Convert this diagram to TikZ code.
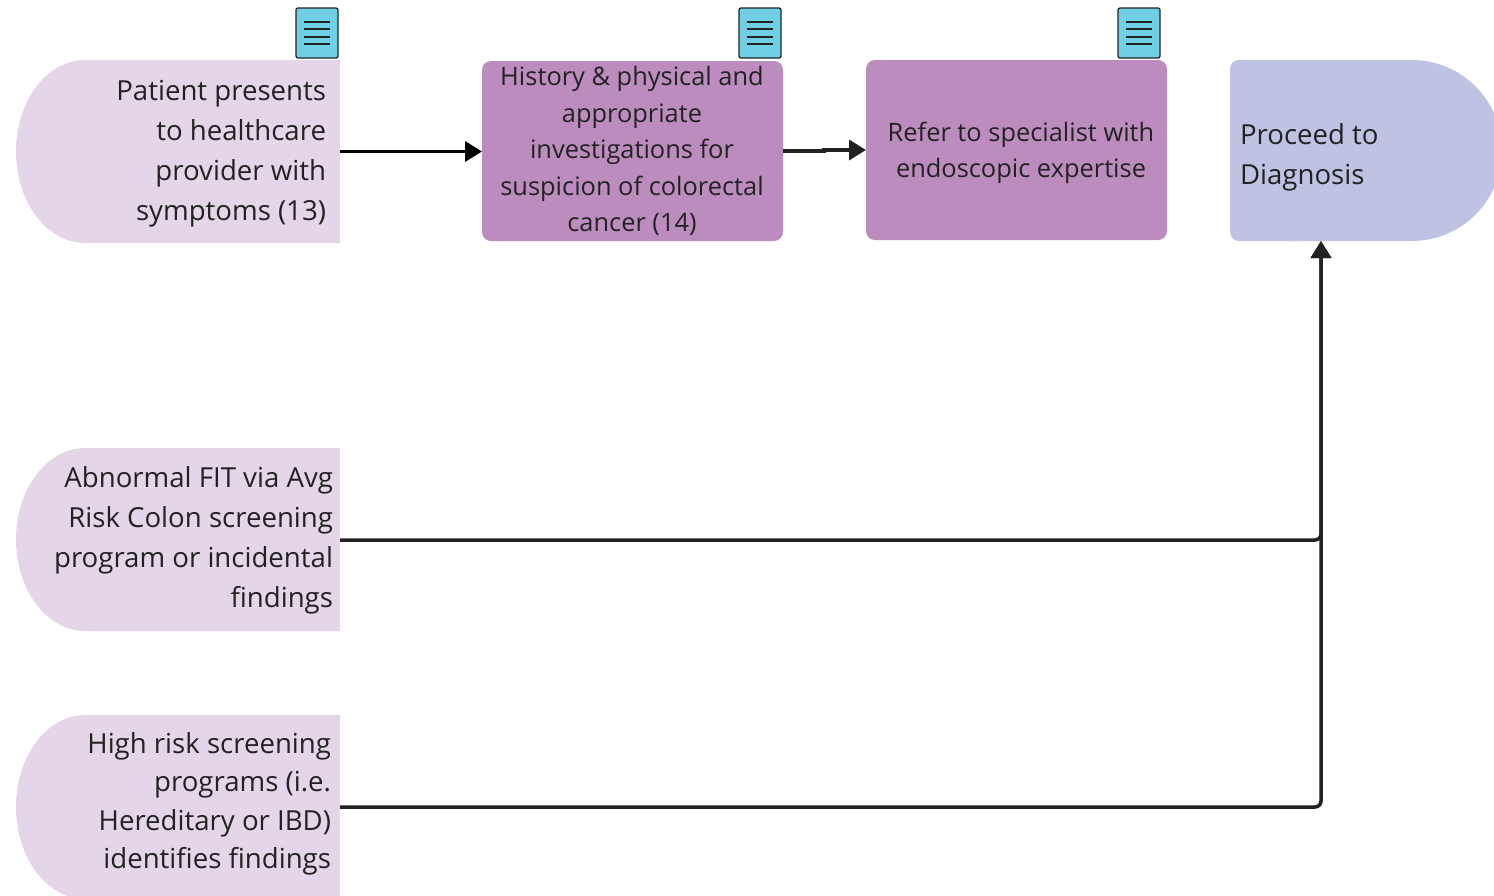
\documentclass[tikz,border=0pt]{standalone}
\usepackage{fontspec}
\setmainfont{Open Sans}
\usetikzlibrary{arrows.meta}
\definecolor{lilac}{HTML}{E4D5E9}
\definecolor{plum}{HTML}{BC8CBF}
\definecolor{periw}{HTML}{BFC3E3}
\definecolor{iconblue}{HTML}{6ECFE5}
\definecolor{ink}{HTML}{222222}
\tikzset{
  x=1pt,y=-1pt,
  txt/.style={inner sep=0pt,outer sep=0pt,text=ink},
  righttxt/.style={txt,align=right,anchor=east,font=\fontsize{27.6}{40}\selectfont},
  frame/.style={inner sep=0pt,outer sep=0pt,minimum width=324pt},
  procbox/.style={txt,fill=plum,rounded corners=9pt,minimum width=301pt,minimum height=180pt,align=center},
  iconbox/.style={draw=ink,line width=1.3pt,fill=iconblue,rounded corners=2pt,minimum width=42pt,minimum height=50pt,inner sep=0pt},
  iconline/.style={draw=ink,line width=1.4pt},
  link/.style={line width=3.5pt,-{Triangle[length=17pt,width=20pt]}},
}
\newcommand{\docicon}[3]{%
  \node[iconbox] (#1) at (#2,#3) {};
  \draw[iconline] ([xshift=-13pt,yshift=11pt]#1.center) -- ([xshift=13pt,yshift=11pt]#1.center);
  \draw[iconline] ([xshift=-13pt,yshift=4pt]#1.center) -- ([xshift=13pt,yshift=4pt]#1.center);
  \draw[iconline] ([xshift=-13pt,yshift=-4pt]#1.center) -- ([xshift=13pt,yshift=-4pt]#1.center);
  \draw[iconline] ([xshift=-13pt,yshift=-11pt]#1.center) -- ([xshift=13pt,yshift=-11pt]#1.center);
}
\begin{document}
\begin{tikzpicture}
\useasboundingbox (0,0) rectangle (1494,895);
\clip (0,0) rectangle (1494,895);
% shape fills
\fill[lilac] (340,60) -- (85,60) arc[start angle=90,end angle=270,x radius=69,y radius=-91.5] -- (340,243) -- cycle;
\fill[lilac] (340,448) -- (85,448) arc[start angle=90,end angle=270,x radius=69,y radius=-91.5] -- (340,631) -- cycle;
\fill[lilac] (340,715) -- (85,715) arc[start angle=90,end angle=270,x radius=69,y radius=-92] -- (340,899) -- cycle;
\fill[periw,rounded corners=9pt] (1300,60) -- (1230,60) -- (1230,241) -- (1300,241);
\fill[periw] (1290,60) -- (1412,60) arc[start angle=90,end angle=-90,x radius=90,y radius=-90.5] -- (1290,241) -- cycle;
% shape frames
\node[frame,minimum height=183pt] (sym) at (178,151.5) {};
\node[frame,minimum height=183pt] (fit) at (178,540) {};
\node[frame,minimum height=184pt] (high) at (178,807) {};
\node[procbox] (hist) at (632.5,151) {};
\node[procbox] (ref) at (1016.5,150) {};
\node[inner sep=0pt,outer sep=0pt,minimum width=182pt,minimum height=181pt] (dx) at (1321,150.5) {};
% texts
\node[righttxt] (symT) at (326,154) {Patient presents\\to healthcare\\provider with\\symptoms (13)};
\node[righttxt] (fitT) at (333,540) {Abnormal FIT via Avg\\Risk Colon screening\\program or incidental\\findings};
\node[righttxt,font=\fontsize{27.6}{38.5}\selectfont] (highT) at (331,804) {High risk screening\\programs (i.e.\\Hereditary or IBD)\\identifies findings};
\node[txt,align=center,font=\fontsize{25.4}{36.5}\selectfont] (histT) at (632,151) {History \& physical and\\appropriate\\investigations for\\suspicion of colorectal\\cancer (14)};
\node[txt,align=center,font=\fontsize{25.4}{36}\selectfont] (refT) at (1021,153) {Refer to specialist with\\endoscopic expertise};
\node[txt,align=left,anchor=west,font=\fontsize{27.6}{40}\selectfont] (dxT) at (1240,157) {Proceed to\\Diagnosis};
\docicon{ia}{317}{33}
\docicon{ib}{760}{33}
\docicon{ic}{1139}{33}
% connectors
\draw[link,black] (sym.east) -- (sym.east -| hist.west);
\draw[link,ink] (hist.east) -- ++(41,0) |- (ref.west);
\draw[link,ink,rounded corners=6pt] (fit.east) -| (dx.south);
\draw[link,ink,rounded corners=6pt] (high.east) -| (dx.south);
\end{tikzpicture}
\end{document}
